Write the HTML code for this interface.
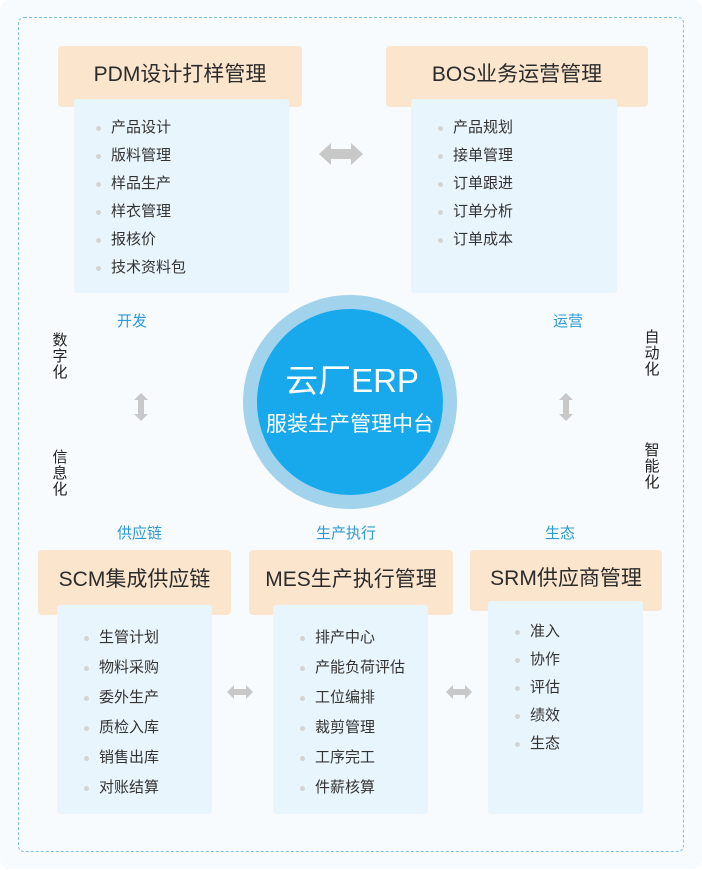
<!DOCTYPE html>
<html><head><meta charset="utf-8"><style>
*{margin:0;padding:0;box-sizing:border-box}
body{width:702px;height:870px;background:#fff;position:relative;overflow:hidden;font-family:"Liberation Sans","Noto Sans CJK SC",sans-serif}
.bg{position:absolute;left:0;top:0;width:702px;height:869px;background:#f7fbfd;border-radius:10px}
.dash{position:absolute;left:18px;top:17px;width:666px;height:835px;border:1px dashed #7cc3e3;border-radius:6px}
.h{position:absolute;background:#fbe6cd;border-radius:4px;color:#2b2b2b;font-size:21px;text-align:center;white-space:nowrap}
.l{position:absolute;background:#e9f5fd;border-radius:3px}
.i{position:absolute;font-size:15px;color:#333;line-height:20px;white-space:nowrap}
.i::before{content:"";position:absolute;left:-15px;top:8px;width:5px;height:5px;border-radius:50%;background:#d4d4d4}
.b{position:absolute;font-size:15px;color:#2d9ad6;white-space:nowrap}
.v{position:absolute;font-size:15px;color:#222;width:16px;line-height:16px;text-align:center}
</style></head><body>
<div class="bg"></div><div class="dash"></div>

<div class="h" style="left:58px;top:46px;width:244px;height:61px;line-height:58px">PDM设计打样管理</div>
<div class="l" style="left:74px;top:99px;width:215px;height:194px"></div>
<div class="i" style="left:111px;top:118px">产品设计</div>
<div class="i" style="left:111px;top:146px">版料管理</div>
<div class="i" style="left:111px;top:174px">样品生产</div>
<div class="i" style="left:111px;top:202px">样衣管理</div>
<div class="i" style="left:111px;top:230px">报核价</div>
<div class="i" style="left:111px;top:258px">技术资料包</div>

<div class="h" style="left:386px;top:46px;width:262px;height:61px;line-height:58px">BOS业务运营管理</div>
<div class="l" style="left:411px;top:99px;width:206px;height:194px"></div>
<div class="i" style="left:453px;top:118px">产品规划</div>
<div class="i" style="left:453px;top:146px">接单管理</div>
<div class="i" style="left:453px;top:174px">订单跟进</div>
<div class="i" style="left:453px;top:202px">订单分析</div>
<div class="i" style="left:453px;top:230px">订单成本</div>

<svg style="position:absolute;left:0;top:0" width="702" height="870">
<g fill="#c8c8c8">
<polygon points="319,154 331,143 331,149 351,149 351,143 363,154 351,165 351,159 331,159 331,165"/>
<polygon points="227,692 234,685 234,689 246,689 246,685 253,692 246,699 246,695 234,695 234,699"/>
<polygon points="446,692 453,685 453,689 465,689 465,685 472,692 465,699 465,695 453,695 453,699"/>
<polygon points="141,393 148,400 144,400 144,414 148,414 141,421 134,414 138,414 138,400 134,400"/>
<polygon points="566,393 573,400 569,400 569,414 573,414 566,421 559,414 563,414 563,400 559,400"/>
</g>
<circle cx="350" cy="402" r="107" fill="#a2d3ec"/>
<circle cx="350" cy="402" r="93" fill="#17a9ec"/>
<text x="352" y="392" text-anchor="middle" fill="#fff" font-size="33" font-family="Liberation Sans,Noto Sans CJK SC,sans-serif">云厂ERP</text>
<text x="350" y="431" text-anchor="middle" fill="#fff" font-size="21" font-family="Liberation Sans,Noto Sans CJK SC,sans-serif">服装生产管理中台</text>
</svg>

<div class="b" style="left:117px;top:310px">开发</div>
<div class="b" style="left:553px;top:310px">运营</div>
<div class="b" style="left:117px;top:522px">供应链</div>
<div class="b" style="left:316px;top:522px">生产执行</div>
<div class="b" style="left:545px;top:522px">生态</div>

<div class="v" style="left:52px;top:333px">数字化</div>
<div class="v" style="left:52px;top:450px">信息化</div>
<div class="v" style="left:644px;top:330px">自动化</div>
<div class="v" style="left:644px;top:443px">智能化</div>

<div class="h" style="left:38px;top:550px;width:193px;height:65px;line-height:60px">SCM集成供应链</div>
<div class="l" style="left:57px;top:605px;width:155px;height:209px"></div>
<div class="i" style="left:99px;top:628px">生管计划</div>
<div class="i" style="left:99px;top:658px">物料采购</div>
<div class="i" style="left:99px;top:688px">委外生产</div>
<div class="i" style="left:99px;top:718px">质检入库</div>
<div class="i" style="left:99px;top:748px">销售出库</div>
<div class="i" style="left:99px;top:778px">对账结算</div>

<div class="h" style="left:249px;top:550px;width:204px;height:65px;line-height:60px">MES生产执行管理</div>
<div class="l" style="left:273px;top:605px;width:155px;height:209px"></div>
<div class="i" style="left:315px;top:628px">排产中心</div>
<div class="i" style="left:315px;top:658px">产能负荷评估</div>
<div class="i" style="left:315px;top:688px">工位编排</div>
<div class="i" style="left:315px;top:718px">裁剪管理</div>
<div class="i" style="left:315px;top:748px">工序完工</div>
<div class="i" style="left:315px;top:778px">件薪核算</div>

<div class="h" style="left:470px;top:550px;width:192px;height:61px;line-height:58px">SRM供应商管理</div>
<div class="l" style="left:488px;top:601px;width:155px;height:213px"></div>
<div class="i" style="left:530px;top:622px">准入</div>
<div class="i" style="left:530px;top:650px">协作</div>
<div class="i" style="left:530px;top:678px">评估</div>
<div class="i" style="left:530px;top:706px">绩效</div>
<div class="i" style="left:530px;top:734px">生态</div>
</body></html>
